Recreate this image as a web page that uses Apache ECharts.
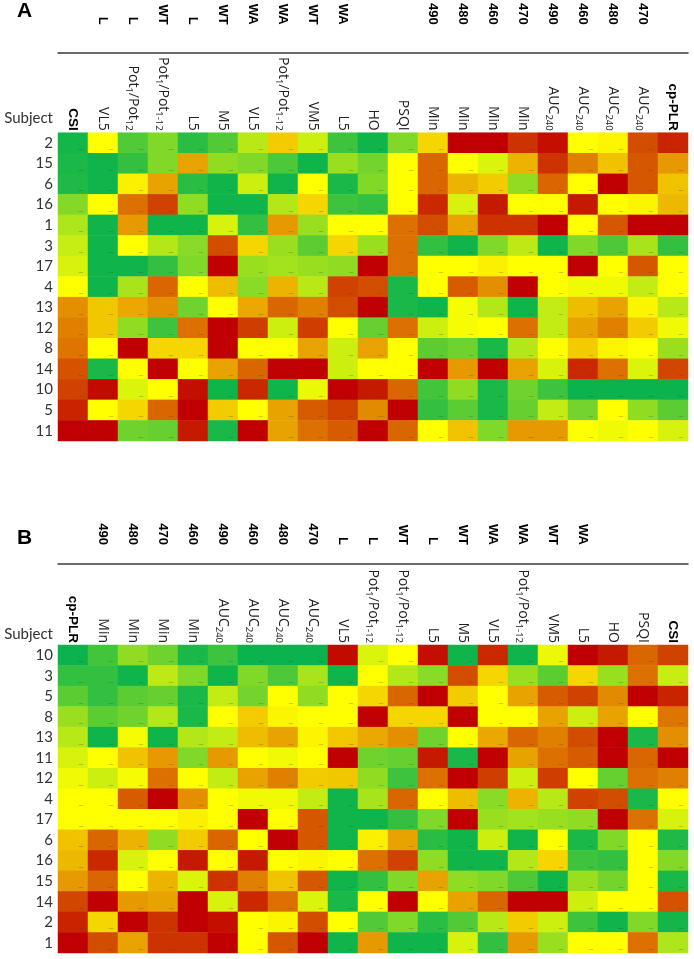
<!DOCTYPE html>
<html><head><meta charset="utf-8">
<script src="https://cdn.jsdelivr.net/npm/echarts@6/dist/echarts.min.js"></script>
<style>html,body{margin:0;padding:0;background:#fff}#c{width:694px;height:959px}</style>
</head><body><div id="c"></div>
<script>
// Subjects in panel A order (sorted by CSI) and panel B order (sorted by cp-PLR)
const subjectsA = ['2','15','6','16','1','3','17','4','13','12','8','14','10','5','11'];
const subjectsB = ['10','3','5','8','13','11','12','4','17','6','16','15','14','2','1'];

// Relative scores 0 (green) .. 10 (red), values listed in subjectsA order
const csi    = [0.4,0.5,0.6,2.6,3.4,3.9,4.2,5.0,7.2,7.5,7.7,8.4,8.7,9.3,10];
const vl5L   = [5.0,0.3,0.3,5.0,0.3,0.3,0.3,0.3,6.1,6.1,5.0,0.5,9.8,5.0,10];
const potL   = [1.6,1.0,5.3,7.8,7.0,5.0,0.3,3.3,6.7,2.8,10,5.0,4.3,5.8,2.2];
const potWT  = [2.5,2.5,6.8,8.7,0.3,3.5,1.0,8.0,7.2,1.2,5.8,10,5.0,8.0,2.0];
const l5L    = [0.8,6.8,0.8,2.8,0.3,2.7,2.5,5.0,2.2,7.8,5.8,5.0,9.7,10,9.5];
const m5WT   = [1.6,2.8,0.3,0.3,4.2,8.5,10,6.3,5.0,10,10,6.8,0.3,6.0,0.5];
const vl5WA  = [3.6,2.5,4.0,0.3,1.0,5.8,3.0,2.7,6.7,8.8,5.0,8.0,9.2,5.0,10];
const potWA  = [6.0,1.5,0.3,3.5,7.0,3.0,3.2,6.5,8.0,4.0,5.0,10,0.3,6.8,6.8];
const vm5WT  = [4.0,0.3,5.0,5.8,3.0,1.8,3.0,3.6,7.5,8.8,6.8,10,4.6,8.2,7.8];
const l5WA   = [1.2,3.0,0.5,1.2,5.0,5.8,2.8,8.7,8.5,5.0,4.0,4.0,10,8.7,8.2];
const ho     = [0.3,2.3,2.5,1.0,5.0,3.0,10,8.5,10,2.0,6.8,5.0,9.5,7.3,10];
const psqi   = [2.5,5.0,5.0,5.0,7.8,7.8,7.8,0.5,0.5,7.8,5.0,5.0,8.0,10,8.0];
const min490 = [5.8,8.0,8.0,9.2,8.5,1.0,5.0,5.0,0.3,4.0,1.8,10,1.3,1.0,5.0];
const min480 = [10,5.0,6.5,4.2,6.8,0.3,5.0,8.2,4.8,4.8,2.2,7.0,2.8,1.8,6.2];
const min460 = [10,4.3,6.0,9.5,9.0,2.5,5.3,7.2,3.5,5.0,0.5,10,0.5,0.5,2.5];
const min470 = [9.0,6.5,2.8,5.0,9.0,3.7,5.0,10,0.3,7.8,3.5,6.8,2.2,2.0,7.0];
const auc490 = [9.7,9.0,8.0,5.0,10,0.3,5.0,5.0,3.8,3.8,5.0,4.2,1.2,3.8,7.0];
const auc460 = [5.0,7.5,5.0,9.5,5.0,2.5,10,4.7,6.3,6.8,6.0,9.2,0.2,2.3,5.0];
const auc480 = [5.2,6.2,10,5.0,8.3,1.5,5.0,4.7,6.8,7.5,5.2,7.8,0.2,5.0,4.7];
const auc470 = [8.5,8.3,8.3,5.2,10,3.3,8.3,3.8,5.2,6.0,5.0,4.3,0.2,2.8,5.0];
const cpplr  = [9.3,7.0,6.2,6.4,10,1.0,5.0,5.0,3.6,4.7,3.0,8.6,0.2,1.8,4.2];

// Column order and labels
const colsA = ['csi','vl5L','potL','potWT','l5L','m5WT','vl5WA','potWA','vm5WT','l5WA','ho','psqi','min490','min480','min460','min470','auc490','auc460','auc480','auc470','cpplr'];
const labelsA = ['{b|CSI}','VL5','Pot{s|1}/Pot{s|12}','Pot{s|1}/Pot{s|1-12}','L5','M5','VL5','Pot{s|1}/Pot{s|1-12}','VM5','L5','HO','PSQI','Min','Min','Min','Min','AUC{s|240}','AUC{s|240}','AUC{s|240}','AUC{s|240}','{b|cp-PLR}'];
const groupsA = ['','L','L','WT','L','WT','WA','WA','WT','WA','','','490','480','460','470','490','460','480','470',''];

const colsB = ['cpplr','min490','min480','min470','min460','auc490','auc460','auc480','auc470','vl5L','potL','potWT','l5L','m5WT','vl5WA','potWA','vm5WT','l5WA','ho','psqi','csi'];
const labelsB = ['{b|cp-PLR}','Min','Min','Min','Min','AUC{s|240}','AUC{s|240}','AUC{s|240}','AUC{s|240}','VL5','Pot{s|1}/Pot{s|1-12}','Pot{s|1}/Pot{s|1-12}','L5','M5','VL5','Pot{s|1}/Pot{s|1-12}','VM5','L5','HO','PSQI','{b|CSI}'];
const groupsB = ['','490','480','470','460','490','460','480','470','L','L','WT','L','WT','WA','WA','WT','WA','','',''];

const table = {csi,vl5L,potL,potWT,l5L,m5WT,vl5WA,potWA,vm5WT,l5WA,ho,psqi,min490,min480,min460,min470,auc490,auc460,auc480,auc470,cpplr};

function build(cols, subjects) {
  const out = [];
  subjects.forEach((s, r) => {
    const k = subjectsA.indexOf(s);
    cols.forEach((c, ci) => out.push([ci, r, table[c][k]]));
  });
  return out;
}
// wrap plain text segments into explicit rich tokens
function toRich(str) {
  return str.split(/(\{[a-z]\|[^}]*\})/).filter(p => p.length).map(p => p.charAt(0) === '{' ? p : '{n|' + p + '}').join('');
}

const rich = {
  n: {fontSize: 14, fontFamily: 'Open Sans', color: '#222', lineHeight: 18, verticalAlign: 'middle'},
  s: {fontSize: 9.5, fontFamily: 'Open Sans', color: '#222', verticalAlign: 'bottom', lineHeight: 11},
  b: {fontSize: 13.5, fontFamily: 'Liberation Sans', fontWeight: 'bold', color: '#000', lineHeight: 18}
};

function colAxis(grid, labels) {
  return {
    gridIndex: grid, type: 'category', position: 'top', data: labels.map((_, i) => 'c' + i),
    axisLine: {show: false}, axisTick: {show: false}, splitLine: {show: false},
    axisLabel: {interval: 0, rotate: 90, margin: 2, fontSize: 14, fontFamily: 'Open Sans', color: '#222',
      rich: rich, formatter: (v, i) => toRich(labels[i])}
  };
}
function groupAxis(grid, groups, offset, margin) {
  return {
    gridIndex: grid, type: 'category', position: 'top', offset: offset, data: groups.map((_, i) => 'g' + i),
    axisLine: {show: true, lineStyle: {color: '#3a3a3a', width: 1.5}}, axisTick: {show: false}, splitLine: {show: false},
    axisLabel: {interval: 0, rotate: 90, margin: margin, fontSize: 13, fontFamily: 'Liberation Sans', fontWeight: 'bold', color: '#000',
      formatter: (v, i) => groups[i]}
  };
}
function rowAxis(grid, subjects) {
  return {
    gridIndex: grid, type: 'category', inverse: true, data: subjects,
    axisLine: {show: false}, axisTick: {show: false}, splitLine: {show: false},
    axisLabel: {interval: 0, margin: 5, fontSize: 15, fontFamily: 'Lato', color: '#333'}
  };
}
const dash = {show: true, formatter: '\u2013', fontSize: 8, color: 'rgba(60,60,60,0.5)', offset: [8, 6]};

const chart = echarts.init(document.getElementById('c'), null, {renderer: 'canvas'});
chart.setOption({
  animation: false,
  backgroundColor: '#fff',
  title: [
    {text: 'A', left: 17, top: 1, padding: 0, textStyle: {fontSize: 21, fontWeight: 'bold', fontFamily: 'Liberation Sans', color: '#000'}},
    {text: 'B', left: 17, top: 528, padding: 0, textStyle: {fontSize: 21, fontWeight: 'bold', fontFamily: 'Liberation Sans', color: '#000'}}
  ],
  graphic: [
    {type: 'text', x: 53, y: 118, style: {text: 'Subject', fontSize: 15, fontFamily: 'Lato', fill: '#333', align: 'right', verticalAlign: 'middle'}},
    {type: 'text', x: 53, y: 634, style: {text: 'Subject', fontSize: 15, fontFamily: 'Lato', fill: '#333', align: 'right', verticalAlign: 'middle'}}
  ],
  grid: [
    {left: 58, right: 6, top: 128, height: 313},
    {left: 58, right: 6, top: 645, height: 308}
  ],
  xAxis: [colAxis(0, labelsA), groupAxis(0, groupsA, 80, 28), colAxis(1, labelsB), groupAxis(1, groupsB, 81, 19)],
  yAxis: [rowAxis(0, subjectsA), rowAxis(1, subjectsB)],
  visualMap: {type: 'continuous', show: false, min: 0, max: 10, seriesIndex: [0, 1],
    inRange: {color: ['#00B050', '#FFFF00', '#C00000']}},
  series: [
    {type: 'heatmap', xAxisIndex: 0, yAxisIndex: 0, data: build(colsA, subjectsA), label: dash, emphasis: {disabled: true}, itemStyle: {borderWidth: 0}},
    {type: 'heatmap', xAxisIndex: 2, yAxisIndex: 1, data: build(colsB, subjectsB), label: dash, emphasis: {disabled: true}, itemStyle: {borderWidth: 0}}
  ]
});
</script></body></html>
